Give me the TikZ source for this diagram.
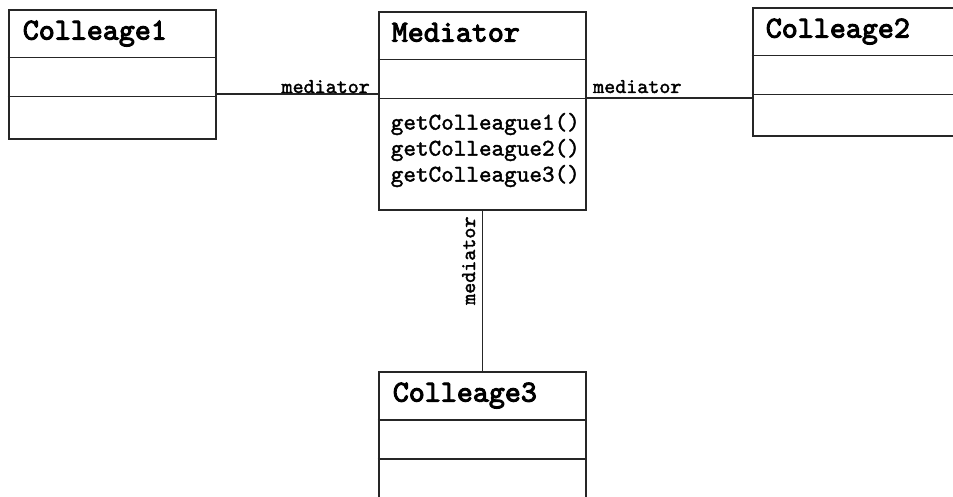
\documentclass[tikz,border=0pt]{standalone}
\usepackage{fontspec}
\newfontfamily\classfont{lmmono10-regular.otf}[FakeBold=3.2]
\newfontfamily\opfont{lmmono10-regular.otf}[FakeBold=1.6]
\newfontfamily\rolefont{lmmono10-regular.otf}[FakeBold=1.8]
\begin{document}
\begin{tikzpicture}[x=1pt,y=-1pt,
  classbox/.style={draw=black!85, line width=2.8pt, rectangle, inner sep=0pt,
    minimum width=207pt},
  divider/.style={draw=black!85, line width=1.8pt},
  link/.style={draw=black!85, line width=1.9pt},
  title/.style={font=\classfont\fontsize{30.5}{30.5}\selectfont, anchor=base west, inner sep=0pt},
  method/.style={font=\opfont\fontsize{24}{26}\selectfont, anchor=base west, inner sep=0pt},
  role/.style={font=\rolefont\fontsize{21}{21}\selectfont, inner sep=0pt}]
\useasboundingbox (0,0) rectangle (953,497);
\clip (0,0) rectangle (953,497);

% class boxes
\node[classbox, minimum height=129pt] (c1) at (112.5,74.5) {};
\node[classbox, minimum height=198pt] (med) at (482.5,111) {};
\node[classbox, minimum height=128pt] (c2) at (856.5,72) {};
\node[classbox, minimum height=129pt] (c3) at (482.5,436.5) {};

% compartments: name / attributes / operations
\foreach \b in {c1,med,c2,c3}{
  \draw[divider] ([yshift=-49pt]\b.north west) -- ([yshift=-49pt]\b.north east);
  \draw[divider] ([yshift=-88pt]\b.north west) -- ([yshift=-88pt]\b.north east);
}

% class names
\node[title] (t1) at ([shift={(15pt,-31pt)}]c1.north west) {Colleage1};
\node[title] (tm) at ([shift={(14pt,-31pt)}]med.north west) {Mediator};
\node[title] (t2) at ([shift={(14pt,-31pt)}]c2.north west) {Colleage2};
\node[title] (t3) at ([shift={(15pt,-31pt)}]c3.north west) {Colleage3};

% operations of the mediator
\node[method] (op1) at ([shift={(13pt,-119pt)}]med.north west) {getColleague1()};
\node[method] (op2) at ([shift={(13pt,-145pt)}]med.north west) {getColleague2()};
\node[method] (op3) at ([shift={(13pt,-171pt)}]med.north west) {getColleague3()};

% associations
\draw[link] (c1.east |- 0,94) -- (med.west |- 0,94);
\draw[link] (med.east |- 0,98) -- (c2.west |- 0,98);
\draw[link] (med.south) -- (c3.north);

% role names
\node[role, anchor=base east] (r1) at (370,93) {mediator};
\node[role, anchor=base west] (r2) at (593,93) {mediator};
\node[role, anchor=base west, rotate=90] (r3) at (475,305) {mediator};
\end{tikzpicture}
\end{document}
